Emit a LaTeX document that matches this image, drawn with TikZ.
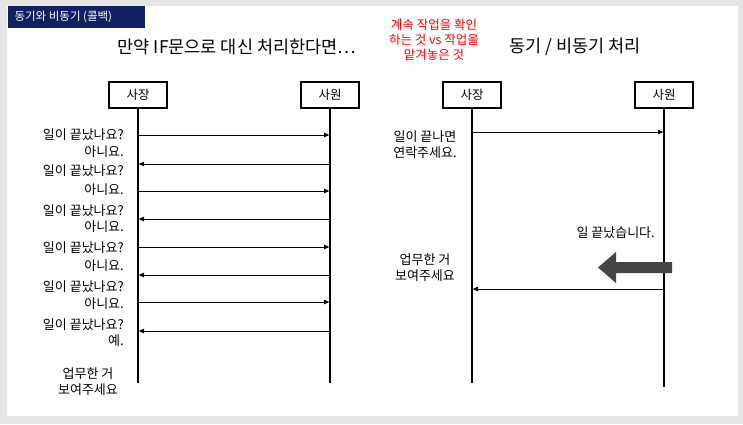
\documentclass[tikz,border=0pt]{standalone}
\usepackage{fontspec}
\setmainfont{Noto Sans CJK KR}
\usetikzlibrary{arrows.meta}
\definecolor{navy}{RGB}{16,32,96}
\definecolor{darkarrow}{RGB}{68,68,68}
\begin{document}
\begin{tikzpicture}[x=1pt, y=-1pt, >={Latex[length=6pt,width=5pt]},
    actor/.style={draw, line width=2.6pt, minimum width=58pt, minimum height=26pt, font=\fontsize{12.5}{14}\selectfont},
    msg/.style={font=\fontsize{13}{15}\selectfont, anchor=east, inner sep=1pt},
    lifeline/.style={line width=1.5pt},
    call/.style={->, line width=1pt}]
  % background and white sheet
  \fill[gray!20] (0,0) rectangle (743,424);
  \fill[white] (7,6) rectangle (738,416);
  \useasboundingbox (0,0) rectangle (743,424);
  \fill[navy] (8,6) rectangle (145,28);
  \node[text=white, font=\fontsize{11.5}{13}\selectfont, anchor=west] (head) at (11,17) {동기와 비동기 (콜백)};
  % titles
  \node[font=\fontsize{17.5}{20}\selectfont] (ltitle) at (237,47) {만약 IF문으로 대신 처리한다면…};
  \node[font=\fontsize{17.5}{20}\selectfont] (rtitle) at (575,47) {동기 / 비동기 처리};
  \node[text=red, align=center, font=\fontsize{12.5}{15}\selectfont] (note) at (434,40) {계속 작업을 확인\\하는 것 vs 작업을\\맡겨놓은 것};
  % left side: polling
  \node[actor] (boss) at (138,95) {사장};
  \node[actor] (staff) at (330,95) {사원};
  \coordinate (bossend) at (138,383);
  \coordinate (staffend) at (330,383);
  \draw[lifeline] (boss) -- (bossend);
  \draw[lifeline] (staff) -- (staffend);
  \foreach \y in {135,191,247,302} {
    \draw[call] (138,\y) -- (330,\y);
  }
  \foreach \y in {164,219,275,331} {
    \draw[call] (330,\y) -- (138,\y);
  }
  \foreach \y/\t [count=\i] in {135/일이 끝났나요?, 152/아니요., 171/일이 끝났나요?, 190/아니요., 211/일이 끝났나요?, 227/아니요., 248/일이 끝났나요?, 266/아니요., 287/일이 끝났나요?, 304/아니요., 325/일이 끝났나요?, 341/예.} {
    \node[msg] (q\i) at (125,\y) {\t};
  }
  \node[align=center, font=\fontsize{13}{16}\selectfont] (show) at (88,382) {업무한 거\\보여주세요};
  % right side: callback
  \node[actor] (boss2) at (472,95) {사장};
  \node[actor] (staff2) at (664,95) {사원};
  \coordinate (boss2end) at (472,383);
  \coordinate (staff2end) at (664,387);
  \draw[lifeline] (boss2) -- (boss2end);
  \draw[lifeline] (staff2) -- (staff2end);
  \draw[call] (472,132) -- (664,132);
  \draw[call] (664,289) -- (472,289);
  \node[align=center, font=\fontsize{13}{16}\selectfont] (ask) at (425,145) {일이 끝나면\\연락주세요.};
  \node[msg] (done) at (656,233) {일 끝났습니다.};
  \node[align=center, font=\fontsize{13}{16}\selectfont] (show2) at (425,268) {업무한 거\\보여주세요};
  \fill[darkarrow] (672,262) -- (616,262) -- (616,252) -- (598,267.5) -- (616,283) -- (616,273) -- (672,273) -- cycle;
\end{tikzpicture}
\end{document}
